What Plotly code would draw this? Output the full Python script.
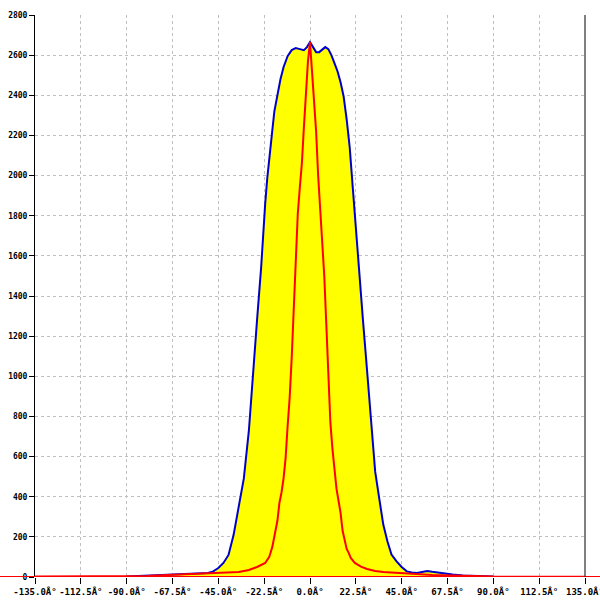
import plotly.graph_objects as go

# Blue series (filled yellow)
blue_x = [-90, -85, -80, -75, -70, -67.5, -65, -60, -55, -50, -47.5, -45, -42.5, -40, -37.5,
          -35, -32.5, -30, -28, -26, -24, -23, -22, -21, -20, -18.5, -17.5, -16, -14.5, -13,
          -11, -9, -7, -5, -3, -1.5, 0, 1.5, 3, 4.5, 6, 7.5, 9, 10.5, 12, 13.5, 15, 16.5, 18,
          19.5, 21, 22, 23, 24, 26, 28, 30, 32, 34, 36, 38, 40, 42.5, 45, 47.5, 50, 52.5, 55,
          57.5, 60, 62.5, 65, 70, 75, 80, 85, 90]
blue_y = [3, 5, 8, 10, 13, 15, 15, 17, 18, 20, 28, 45, 70, 110, 210,
          345, 490, 730, 1030, 1280, 1540, 1715, 1860, 1985, 2095, 2225, 2320, 2400, 2480, 2540,
          2595, 2625, 2635, 2630, 2625, 2640, 2665, 2640, 2615, 2615, 2630, 2640, 2630, 2600, 2560, 2520, 2465, 2395, 2280,
          2140, 1940, 1800, 1660, 1530, 1280, 1030, 782, 525, 390, 260, 178, 112, 78, 50, 28, 22, 20, 25,
          30, 26, 22, 20, 13, 8, 5, 3, 2]

# Red series
red_x = [-180, -90, -80, -70, -60, -50, -45, -40, -35, -30, -26, -22, -20, -18.5, -17, -16,
         -15, -14, -13, -12, -11, -10, -9, -8, -7, -6, -5, -4, -3, -2, -1, 0,
         1, 2, 3, 4, 5, 6, 7, 8, 9, 10, 11, 12, 13, 14, 15, 16, 17, 18, 19, 20,
         22, 25, 28, 32, 36, 40, 45, 50, 60, 70, 80, 90, 180]
red_y = [0, 2, 5, 10, 14, 17, 19, 22, 25, 35, 50, 70, 100, 150, 220, 280,
         370, 420, 490, 590, 750, 890, 1090, 1340, 1510, 1810, 1940, 2060, 2240, 2420, 2570, 2665,
         2510, 2340, 2220, 2000, 1830, 1660, 1500, 1260, 1000, 770, 640, 520, 440, 380, 320, 230, 180, 140, 120, 95,
         70, 52, 40, 30, 25, 22, 20, 17, 10, 7, 5, 2, 0]

x_ticks = [-135, -112.5, -90, -67.5, -45, -22.5, 0, 22.5, 45, 67.5, 90, 112.5, 135]
x_labels = ["%.1fÂ°" % v for v in x_ticks]
y_ticks = list(range(0, 2801, 200))

fig = go.Figure()
fig.add_trace(go.Scatter(x=blue_x, y=blue_y, mode="lines", fill="tozeroy",
                         fillcolor="#FFFF00", line=dict(color="#0000CC", width=2)))
fig.add_trace(go.Scatter(x=red_x, y=red_y, mode="lines",
                         line=dict(color="#FF0000", width=2)))

# baseline of red series continuing past the plot edges
fig.add_shape(type="line", xref="paper", yref="y", x0=-35 / 550, x1=1 + 15 / 550, y0=0, y1=0,
              line=dict(color="#FF0000", width=2), layer="above")
# right border line
fig.add_shape(type="line", xref="paper", yref="paper", x0=1, x1=1, y0=0, y1=1,
              line=dict(color="black", width=1), layer="above")

xfont = dict(family="DejaVu Sans Mono", size=9, color="black", weight="bold")
yfont = dict(family="DejaVu Sans Mono", size=8, color="black", weight="bold")
fig.update_layout(
    width=600, height=600,
    margin=dict(l=35, r=15, t=15, b=23),
    paper_bgcolor="white", plot_bgcolor="white",
    showlegend=False,
    xaxis=dict(range=[-135, 135], tickmode="array", tickvals=x_ticks, ticktext=x_labels,
               showgrid=True, gridcolor="#c0c0c0", griddash="dot", gridwidth=1,
               zeroline=False, showline=False, ticks="outside", ticklen=6,
               tickcolor="black", tickfont=xfont, tickangle=0, automargin=False,
               ticklabeloverflow="allow"),
    yaxis=dict(range=[0, 2800], tickmode="array", tickvals=y_ticks,
               showgrid=True, gridcolor="#c0c0c0", griddash="dot", gridwidth=1,
               zeroline=False, showline=True, linecolor="black", linewidth=1,
               ticks="outside", ticklen=5, tickcolor="black", tickfont=yfont,
               automargin=False),
)

fig.write_html("out.html", config={"displayModeBar": False},
               post_script="document.body.style.margin='0';document.body.style.overflow='hidden';")
